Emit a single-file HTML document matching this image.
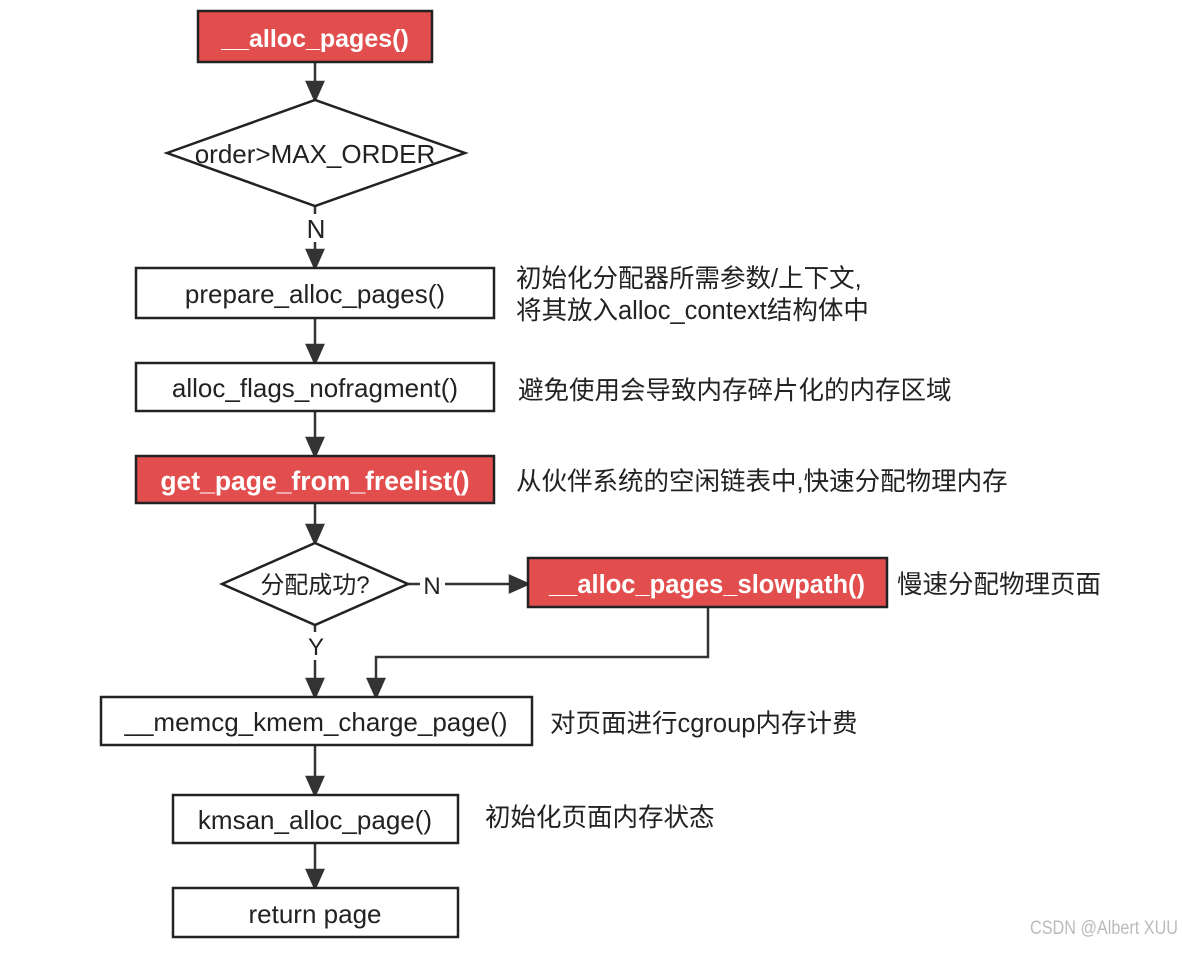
<!DOCTYPE html>
<html><head><meta charset="utf-8"><style>
body{margin:0;background:#fff}
svg text{font-family:"Liberation Sans","Noto Sans CJK SC",sans-serif;fill:#222}
</style></head><body>
<svg width="1182" height="948" viewBox="0 0 1182 948" xmlns="http://www.w3.org/2000/svg">
<g stroke="#333" stroke-width="2.5" fill="none">
<line x1="315" y1="62" x2="315" y2="82"/><path d="M307,82 L323,82 L315,100 z" fill="#333"/>
<line x1="315" y1="206" x2="315" y2="214"/>
<line x1="315" y1="242" x2="315" y2="250"/><path d="M307,250 L323,250 L315,268 z" fill="#333"/>
<line x1="315" y1="318" x2="315" y2="345"/><path d="M307,345 L323,345 L315,363 z" fill="#333"/>
<line x1="315" y1="411" x2="315" y2="438"/><path d="M307,438 L323,438 L315,456 z" fill="#333"/>
<line x1="315" y1="503" x2="315" y2="525"/><path d="M307,525 L323,525 L315,543 z" fill="#333"/>
<line x1="408" y1="584" x2="420" y2="584"/>
<line x1="445" y1="584" x2="510" y2="584"/><path d="M510,576 L510,592 L528,584 z" fill="#333"/>
<line x1="315" y1="625" x2="315" y2="632"/>
<line x1="315" y1="660" x2="315" y2="679"/><path d="M307,679 L323,679 L315,697 z" fill="#333"/>
<polyline points="708,607 708,657 376,657 376,679"/><path d="M368,679 L384,679 L376,697 z" fill="#333"/>
<line x1="315" y1="745" x2="315" y2="777"/><path d="M307,777 L323,777 L315,795 z" fill="#333"/>
<line x1="315" y1="843" x2="315" y2="870"/><path d="M307,870 L323,870 L315,888 z" fill="#333"/>
</g>
<g stroke="#222" stroke-width="2.5">
<rect x="198" y="11" width="234" height="51" fill="#e24e4e"/>
<polygon points="167,153 315,100 465,153 315,206" fill="#fff"/>
<rect x="136" y="268" width="358" height="50" fill="#fff"/>
<rect x="136" y="363" width="358" height="48" fill="#fff"/>
<rect x="136" y="456" width="358" height="47" fill="#e24e4e"/>
<polygon points="222,584 315,543 408,584 315,625" fill="#fff"/>
<rect x="528" y="558" width="359" height="49" fill="#e24e4e"/>
<rect x="101" y="697" width="431" height="48" fill="#fff"/>
<rect x="173" y="795" width="285" height="48" fill="#fff"/>
<rect x="173" y="888" width="285" height="49" fill="#fff"/>
</g>
<g font-size="26" text-anchor="middle">
<text x="315" y="47" font-weight="bold" font-size="25" style="fill:#fff">__alloc_pages()</text>
<text x="315" y="163">order&gt;MAX_ORDER</text>
<text x="316" y="238">N</text>
<text x="315" y="303">prepare_alloc_pages()</text>
<text x="315" y="397">alloc_flags_nofragment()</text>
<text x="315" y="490" font-weight="bold" font-size="26.5" style="fill:#fff">get_page_from_freelist()</text>
<text x="315" y="593" font-size="24">分配成功?</text>
<text x="432" y="594" font-size="24">N</text>
<text x="707" y="593" font-weight="bold" font-size="25.5" style="fill:#fff">__alloc_pages_slowpath()</text>
<text x="316" y="655" font-size="24">Y</text>
<text x="316" y="731">__memcg_kmem_charge_page()</text>
<text x="315" y="829">kmsan_alloc_page()</text>
<text x="315" y="923">return page</text>
</g>
<g font-size="25.5">
<text x="516" y="287">初始化分配器所需参数/上下文,</text>
<text x="516" y="319">将其放入alloc_context结构体中</text>
<text x="518" y="399">避免使用会导致内存碎片化的内存区域</text>
<text x="516" y="490">从伙伴系统的空闲链表中,快速分配物理内存</text>
<text x="897" y="593">慢速分配物理页面</text>
<text x="550" y="732">对页面进行cgroup内存计费</text>
<text x="485" y="826">初始化页面内存状态</text>
<text x="1030" y="934" font-size="19" textLength="148" lengthAdjust="spacingAndGlyphs" style="fill:#bbb">CSDN @Albert XUU</text>
</g>
</svg>
</body></html>
